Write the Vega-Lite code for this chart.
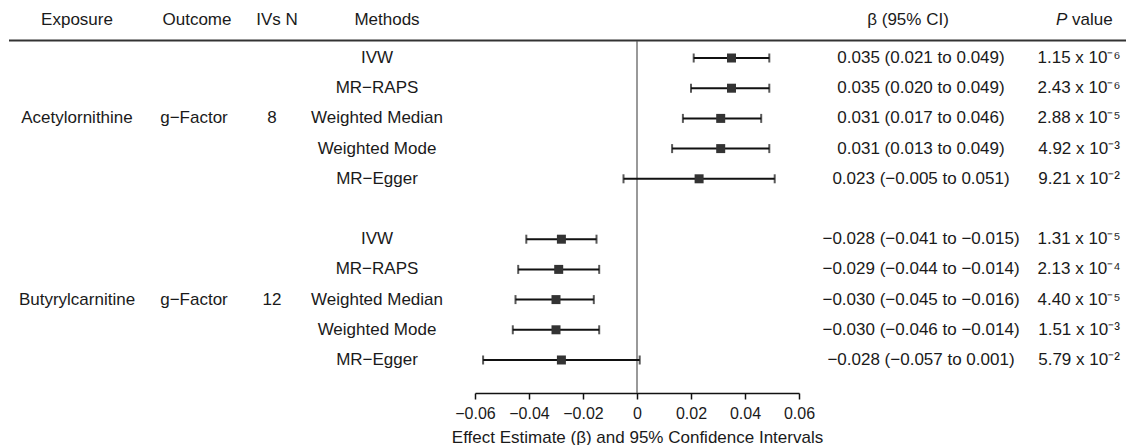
{
  "$schema": "https://vega.github.io/schema/vega-lite/v6.json",
  "padding": {"left": 8, "top": 10, "right": 0, "bottom": 0},
  "spacing": 0,
  "bounds": "flush",
  "config": {
    "view": {"stroke": null},
    "font": "Liberation Sans",
    "text": {"font": "Liberation Sans", "fontSize": 17, "color": "#1a1a1a", "baseline": "middle"},
    "axis": {"labelFont": "Liberation Sans", "titleFont": "Liberation Sans", "labelFontSize": 16, "titleFontSize": 17, "labelColor": "#1a1a1a", "titleColor": "#1a1a1a", "titleFontWeight": "normal"}
  },
  "datasets": {
    "one": [{}],
    "rows": [
      {"exposure": "Acetylornithine", "outcome": "g−Factor", "n": "8", "method": "IVW", "beta": 0.035, "lo": 0.021, "hi": 0.049, "ci": "0.035 (0.021 to 0.049)", "p": "1.15 x 10⁻⁶", "row": 1},
      {"exposure": "Acetylornithine", "outcome": "g−Factor", "n": "8", "method": "MR−RAPS", "beta": 0.035, "lo": 0.020, "hi": 0.049, "ci": "0.035 (0.020 to 0.049)", "p": "2.43 x 10⁻⁶", "row": 2},
      {"exposure": "Acetylornithine", "outcome": "g−Factor", "n": "8", "method": "Weighted Median", "beta": 0.031, "lo": 0.017, "hi": 0.046, "ci": "0.031 (0.017 to 0.046)", "p": "2.88 x 10⁻⁵", "row": 3},
      {"exposure": "Acetylornithine", "outcome": "g−Factor", "n": "8", "method": "Weighted Mode", "beta": 0.031, "lo": 0.013, "hi": 0.049, "ci": "0.031 (0.013 to 0.049)", "p": "4.92 x 10⁻³", "row": 4},
      {"exposure": "Acetylornithine", "outcome": "g−Factor", "n": "8", "method": "MR−Egger", "beta": 0.023, "lo": -0.005, "hi": 0.051, "ci": "0.023 (−0.005 to 0.051)", "p": "9.21 x 10⁻²", "row": 5},
      {"exposure": "Butyrylcarnitine", "outcome": "g−Factor", "n": "12", "method": "IVW", "beta": -0.028, "lo": -0.041, "hi": -0.015, "ci": "−0.028 (−0.041 to −0.015)", "p": "1.31 x 10⁻⁵", "row": 7},
      {"exposure": "Butyrylcarnitine", "outcome": "g−Factor", "n": "12", "method": "MR−RAPS", "beta": -0.029, "lo": -0.044, "hi": -0.014, "ci": "−0.029 (−0.044 to −0.014)", "p": "2.13 x 10⁻⁴", "row": 8},
      {"exposure": "Butyrylcarnitine", "outcome": "g−Factor", "n": "12", "method": "Weighted Median", "beta": -0.030, "lo": -0.045, "hi": -0.016, "ci": "−0.030 (−0.045 to −0.016)", "p": "4.40 x 10⁻⁵", "row": 9},
      {"exposure": "Butyrylcarnitine", "outcome": "g−Factor", "n": "12", "method": "Weighted Mode", "beta": -0.030, "lo": -0.046, "hi": -0.014, "ci": "−0.030 (−0.046 to −0.014)", "p": "1.51 x 10⁻³", "row": 10},
      {"exposure": "Butyrylcarnitine", "outcome": "g−Factor", "n": "12", "method": "MR−Egger", "beta": -0.028, "lo": -0.057, "hi": 0.001, "ci": "−0.028 (−0.057 to 0.001)", "p": "5.79 x 10⁻²", "row": 11}
    ]
  },
  "hconcat": [
    {
      "width": 144, "height": 352,
      "layer": [
        {"data": {"name": "one"}, "mark": {"type": "rule", "color": "#333", "strokeWidth": 2},
         "encoding": {"y": {"datum": 0.42, "type": "quantitative", "scale": {"domain": [0.437, 12.093], "reverse": true, "nice": false, "zero": false}, "axis": null}}},
        {"data": {"name": "one"}, "mark": {"type": "text", "text": "Exposure", "dx": -4},
         "encoding": {"y": {"datum": -0.26, "type": "quantitative", "scale": {"domain": [0.437, 12.093], "reverse": true, "nice": false, "zero": false}, "axis": null}}},
        {"data": {"name": "rows"}, "transform": [{"filter": "datum.method == 'Weighted Median'"}],
         "mark": {"type": "text", "dx": -4},
         "encoding": {"y": {"field": "row", "type": "quantitative", "scale": {"domain": [0.437, 12.093], "reverse": true, "nice": false, "zero": false}, "axis": null}, "text": {"field": "exposure"}}}
      ]
    },
    {
      "width": 82, "height": 352,
      "layer": [
        {"data": {"name": "one"}, "mark": {"type": "rule", "color": "#333", "strokeWidth": 2},
         "encoding": {"y": {"datum": 0.42, "type": "quantitative", "scale": {"domain": [0.437, 12.093], "reverse": true, "nice": false, "zero": false}, "axis": null}}},
        {"data": {"name": "one"}, "mark": {"type": "text", "text": "Outcome", "dx": 3},
         "encoding": {"y": {"datum": -0.26, "type": "quantitative", "scale": {"domain": [0.437, 12.093], "reverse": true, "nice": false, "zero": false}, "axis": null}}},
        {"data": {"name": "rows"}, "transform": [{"filter": "datum.method == 'Weighted Median'"}],
         "mark": {"type": "text"},
         "encoding": {"y": {"field": "row", "type": "quantitative", "scale": {"domain": [0.437, 12.093], "reverse": true, "nice": false, "zero": false}, "axis": null}, "text": {"field": "outcome"}}}
      ]
    },
    {
      "width": 76, "height": 352,
      "layer": [
        {"data": {"name": "one"}, "mark": {"type": "rule", "color": "#333", "strokeWidth": 2},
         "encoding": {"y": {"datum": 0.42, "type": "quantitative", "scale": {"domain": [0.437, 12.093], "reverse": true, "nice": false, "zero": false}, "axis": null}}},
        {"data": {"name": "one"}, "mark": {"type": "text", "text": "IVs N", "dx": 4},
         "encoding": {"y": {"datum": -0.26, "type": "quantitative", "scale": {"domain": [0.437, 12.093], "reverse": true, "nice": false, "zero": false}, "axis": null}}},
        {"data": {"name": "rows"}, "transform": [{"filter": "datum.method == 'Weighted Median'"}],
         "mark": {"type": "text", "dx": -1},
         "encoding": {"y": {"field": "row", "type": "quantitative", "scale": {"domain": [0.437, 12.093], "reverse": true, "nice": false, "zero": false}, "axis": null}, "text": {"field": "n"}}}
      ]
    },
    {
      "width": 164, "height": 352,
      "layer": [
        {"data": {"name": "one"}, "mark": {"type": "rule", "color": "#333", "strokeWidth": 2},
         "encoding": {"y": {"datum": 0.42, "type": "quantitative", "scale": {"domain": [0.437, 12.093], "reverse": true, "nice": false, "zero": false}, "axis": null}}},
        {"data": {"name": "one"}, "mark": {"type": "text", "text": "Methods", "dx": -6},
         "encoding": {"y": {"datum": -0.26, "type": "quantitative", "scale": {"domain": [0.437, 12.093], "reverse": true, "nice": false, "zero": false}, "axis": null}}},
        {"data": {"name": "rows"}, "mark": {"type": "text", "dx": -16},
         "encoding": {"y": {"field": "row", "type": "quantitative", "scale": {"domain": [0.437, 12.093], "reverse": true, "nice": false, "zero": false}, "axis": null}, "text": {"field": "method"}}}
      ]
    },
    {
      "width": 324, "height": 352,
      "layer": [
        {"data": {"name": "one"}, "mark": {"type": "rule", "color": "#333", "strokeWidth": 2},
         "encoding": {"y": {"datum": 0.42, "type": "quantitative", "scale": {"domain": [0.437, 12.093], "reverse": true, "nice": false, "zero": false}, "axis": null}}},
        {"data": {"name": "one"}, "mark": {"type": "rule", "color": "#555", "strokeWidth": 1.2},
         "encoding": {"x": {"datum": 0, "type": "quantitative", "scale": {"domain": [-0.06, 0.06], "nice": false, "zero": false}}}},
        {"data": {"name": "rows"}, "mark": {"type": "errorbar", "color": "#111", "thickness": 2, "ticks": {"size": 9, "thickness": 2, "color": "#111"}},
         "encoding": {
           "y": {"field": "row", "type": "quantitative", "scale": {"domain": [0.437, 12.093], "reverse": true, "nice": false, "zero": false}, "axis": null},
           "x": {"field": "lo", "type": "quantitative", "scale": {"domain": [-0.06, 0.06], "nice": false, "zero": false},
                 "axis": {"values": [-0.06, -0.04, -0.02, 0, 0.02, 0.04, 0.06], "format": ".2~f", "labelOverlap": false, "labelFlush": false, "title": "Effect Estimate (β) and 95% Confidence Intervals", "grid": false, "domainColor": "#111", "domainWidth": 1.5, "tickColor": "#111", "tickWidth": 1.5, "tickSize": 6, "labelPadding": 6, "titlePadding": 8}},
           "x2": {"field": "hi"}
         }},
        {"data": {"name": "rows"}, "mark": {"type": "square", "size": 81, "filled": true, "color": "#333", "opacity": 1},
         "encoding": {
           "y": {"field": "row", "type": "quantitative", "scale": {"domain": [0.437, 12.093], "reverse": true, "nice": false, "zero": false}, "axis": null},
           "x": {"field": "beta", "type": "quantitative", "scale": {"domain": [-0.06, 0.06], "nice": false, "zero": false}}
         }}
      ]
    },
    {
      "width": 244, "height": 352,
      "layer": [
        {"data": {"name": "one"}, "mark": {"type": "rule", "color": "#333", "strokeWidth": 2},
         "encoding": {"y": {"datum": 0.42, "type": "quantitative", "scale": {"domain": [0.437, 12.093], "reverse": true, "nice": false, "zero": false}, "axis": null}}},
        {"data": {"name": "one"}, "mark": {"type": "text", "text": "β (95% CI)", "dx": -13},
         "encoding": {"y": {"datum": -0.26, "type": "quantitative", "scale": {"domain": [0.437, 12.093], "reverse": true, "nice": false, "zero": false}, "axis": null}}},
        {"data": {"name": "rows"}, "mark": {"type": "text"},
         "encoding": {"y": {"field": "row", "type": "quantitative", "scale": {"domain": [0.437, 12.093], "reverse": true, "nice": false, "zero": false}, "axis": null}, "text": {"field": "ci"}}}
      ]
    },
    {
      "width": 84, "height": 352,
      "layer": [
        {"data": {"name": "one"}, "mark": {"type": "rule", "color": "#333", "strokeWidth": 2},
         "encoding": {"y": {"datum": 0.42, "type": "quantitative", "scale": {"domain": [0.437, 12.093], "reverse": true, "nice": false, "zero": false}, "axis": null}}},
        {"data": {"name": "one"}, "mark": {"type": "text", "text": "P", "fontStyle": "italic", "align": "left", "dx": -29},
         "encoding": {"y": {"datum": -0.26, "type": "quantitative", "scale": {"domain": [0.437, 12.093], "reverse": true, "nice": false, "zero": false}, "axis": null}}},
        {"data": {"name": "one"}, "mark": {"type": "text", "text": "value", "align": "left", "dx": -13},
         "encoding": {"y": {"datum": -0.26, "type": "quantitative", "scale": {"domain": [0.437, 12.093], "reverse": true, "nice": false, "zero": false}, "axis": null}}},
        {"data": {"name": "rows"}, "mark": {"type": "text", "dx": -6},
         "encoding": {"y": {"field": "row", "type": "quantitative", "scale": {"domain": [0.437, 12.093], "reverse": true, "nice": false, "zero": false}, "axis": null}, "text": {"field": "p"}}}
      ]
    }
  ]
}
